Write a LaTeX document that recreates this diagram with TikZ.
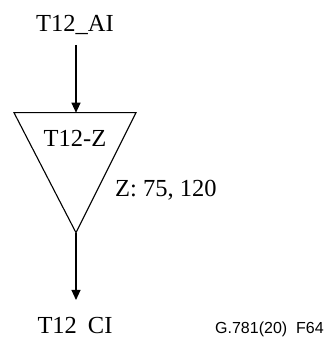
\documentclass[tikz,border=0pt]{standalone}
\usepackage{fontspec}
\setmainfont{Liberation Serif}
\newfontfamily\labelsans{Liberation Sans}
\usetikzlibrary{arrows.meta}
\begin{document}
\begin{tikzpicture}[x=1pt,y=1pt,
  lbl/.style={inner sep=0pt,font=\fontsize{24.5}{28}\selectfont},
  conn/.style={line width=1.1pt,-{Triangle[length=10pt,width=9pt]}},
  tri/.style={line width=1.1pt}]
\useasboundingbox (0,0) rectangle (326,337);
\node[lbl,anchor=base] (ai) at (75,305) {T12\_AI};
\coordinate (tl) at (14,224.3);
\coordinate (tr) at (136,224.3);
\coordinate (tb) at (76,104.3);
\coordinate (tt) at (76,224.3);
\coordinate (as) at (76,292);
\coordinate (ce) at (76,37);
\draw[tri] (tl) -- (tr) -- (tb) -- cycle;
\node[lbl,anchor=base] (tz) at (75,190) {T12-Z};
\node[lbl,anchor=base west] (zv) at (115,140) {Z: 75, 120};
\draw[conn] (as) -- (tt);
\draw[conn] (tb) -- (ce);
\node[lbl,anchor=base] (ci) at (75,4) {T12\hspace{0.45em}CI};
\node[inner sep=0pt,anchor=base west,font=\labelsans\fontsize{16}{18}\selectfont] (g) at (215,3) {G.781(20)\ \ F64};
\end{tikzpicture}
\end{document}
